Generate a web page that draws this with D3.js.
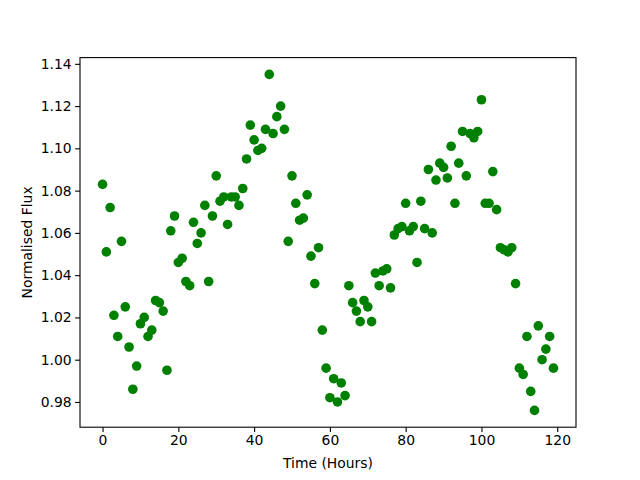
<!DOCTYPE html>
<html>
<head>
<meta charset="utf-8">
<script src="https://cdn.jsdelivr.net/npm/d3@7"></script>
<style>
  body { margin: 0; background: #fff; }
  svg { display: block; font-family: "DejaVu Sans", sans-serif; }
</style>
</head>
<body>
<div id="chart"></div>
<script>
// hours 0..119, one reading per hour
const hours = d3.range(0, 120);
const flux = [
  1.083, 1.051, 1.072, 1.021, 1.011, 1.056, 1.025, 1.006, 0.986, 0.997,
  1.017, 1.020, 1.011, 1.014, 1.028, 1.027, 1.023, 0.995, 1.061, 1.068,
  1.046, 1.048, 1.037, 1.035, 1.065, 1.055, 1.060, 1.073, 1.037, 1.068,
  1.087, 1.075, 1.077, 1.064, 1.077, 1.077, 1.073, 1.081, 1.095, 1.111,
  1.104, 1.099, 1.100, 1.109, 1.135, 1.107, 1.115, 1.120, 1.109, 1.056,
  1.087, 1.074, 1.066, 1.067, 1.078, 1.049, 1.036, 1.053, 1.014, 0.996,
  0.982, 0.991, 0.980, 0.989, 0.983, 1.035, 1.027, 1.023, 1.018, 1.028,
  1.025, 1.018, 1.041, 1.035, 1.042, 1.043, 1.034, 1.059, 1.062, 1.063,
  1.074, 1.061, 1.063, 1.046, 1.075, 1.062, 1.090, 1.060, 1.085, 1.093,
  1.091, 1.086, 1.101, 1.074, 1.093, 1.108, 1.087, 1.107, 1.105, 1.108,
  1.123, 1.074, 1.074, 1.089, 1.071, 1.053, 1.052, 1.051, 1.053, 1.036,
  0.996, 0.993, 1.011, 0.985, 0.976, 1.016, 1.000, 1.005, 1.011, 0.996
];
const xTicks = [0, 20, 40, 60, 80, 100, 120];
const yTicks = [0.98, 1.00, 1.02, 1.04, 1.06, 1.08, 1.10, 1.12, 1.14];

const width = 640, height = 480;
const margin = {top: 57.6, right: 64, bottom: 52.8, left: 80};
const innerW = width - margin.left - margin.right;
const innerH = height - margin.top - margin.bottom;

// matplotlib-like 5% padding
function padded(ext) {
  const d = (ext[1] - ext[0]) * 0.05;
  return [ext[0] - d, ext[1] + d];
}

const x = d3.scaleLinear().domain(padded(d3.extent(hours))).range([0, innerW]);
const y = d3.scaleLinear().domain(padded(d3.extent(flux))).range([innerH, 0]);

const svg = d3.select("#chart").append("svg")
  .attr("width", width)
  .attr("height", height);

const g = svg.append("g")
  .attr("transform", `translate(${margin.left},${margin.top})`);

g.append("g")
  .selectAll("circle")
  .data(hours)
  .join("circle")
  .attr("cx", d => x(d))
  .attr("cy", (d, i) => y(flux[i]))
  .attr("r", 4.8)
  .attr("fill", "#008000");

const xAxis = g.append("g")
  .attr("transform", `translate(0,${innerH})`)
  .call(d3.axisBottom(x).tickValues(xTicks).tickFormat(d3.format("d")).tickSize(4.9).tickPadding(3.5));

const yAxis = g.append("g")
  .call(d3.axisLeft(y).tickValues(yTicks).tickFormat(d3.format(".2f")).tickSize(4.9).tickPadding(3.5));

[xAxis, yAxis].forEach(a => {
  a.select(".domain").remove();
  a.selectAll("line").attr("stroke", "#000").attr("stroke-width", 1.1);
  a.selectAll("text").attr("fill", "#000").style("font-size", "13.9px").style("font-family", "DejaVu Sans");
});

// frame
g.append("rect")
  .attr("width", innerW)
  .attr("height", innerH)
  .attr("fill", "none")
  .attr("stroke", "#000")
  .attr("stroke-width", 1.1);

svg.append("text")
  .attr("x", margin.left + innerW / 2)
  .attr("y", 468)
  .attr("text-anchor", "middle")
  .style("font-size", "13.9px")
  .text("Time (Hours)");

svg.append("text")
  .attr("transform", `translate(32,${margin.top + innerH / 2}) rotate(-90)`)
  .attr("text-anchor", "middle")
  .style("font-size", "13.9px")
  .text("Normalised Flux");
</script>
</body>
</html>
